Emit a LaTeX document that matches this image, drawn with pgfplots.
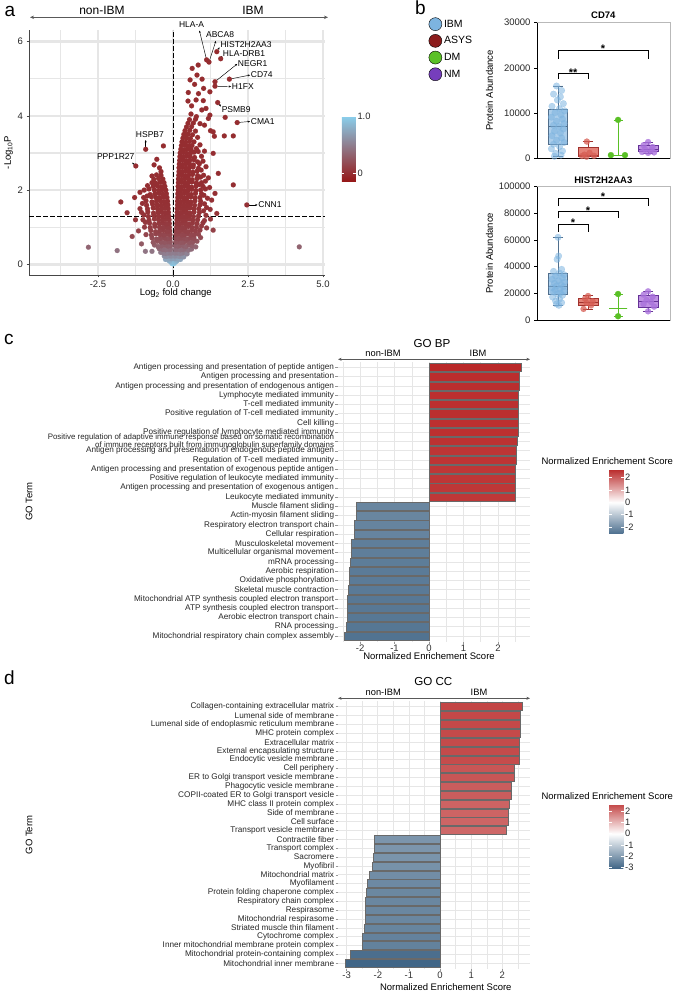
\documentclass[border=0pt]{standalone}
\usepackage{fontspec}
\setmainfont{Liberation Sans}
\usepackage{pgfplots}
\pgfplotsset{compat=1.18}
\usepgfplotslibrary{statistics}
\usetikzlibrary{arrows.meta}

\definecolor{gridgray}{RGB}{230,230,230}
\definecolor{axgray}{RGB}{70,70,70}
\definecolor{tickgray}{RGB}{150,150,150}
\definecolor{barline}{RGB}{105,105,105}
\definecolor{nesred}{RGB}{185,40,40}
\definecolor{nesblue}{RGB}{65,102,135}
\definecolor{ibmblue}{RGB}{125,180,224}
\definecolor{ibmfill}{RGB}{172,206,235}
\definecolor{ibmline}{RGB}{80,110,140}
\definecolor{asysdark}{RGB}{140,28,28}
\definecolor{asysred}{RGB}{215,95,85}
\definecolor{asysfill}{RGB}{228,130,120}
\definecolor{asysline}{RGB}{160,50,45}
\definecolor{dmgreen}{RGB}{90,192,38}
\definecolor{nmpurple}{RGB}{118,62,188}
\definecolor{nmdot}{RGB}{170,115,220}
\definecolor{nmfill}{RGB}{192,145,228}
\definecolor{nmline}{RGB}{100,50,150}

\newcommand\fs[1]{\fontsize{#1}{#1}\selectfont}

\pgfplotsset{
  /pgf/number format/assume math mode=true,
  nesbar/.style={xbar, bar shift=0pt, bar width=0.9, draw=barline, line width=0.5pt, fill=#1},
  dots/.style 2 args={only marks, mark=*, mark size=3pt, color=#1,
    mark options={fill=#1, draw=#1, line width=0.2pt, opacity=#2}},
  cbar/.style={at={(parent axis.north east)}, anchor=north west, scale only axis,
    axis line style={draw=none}, y dir=normal, xtick=\empty,
    ytick pos=both, yticklabel pos=right, tick align=inside, major tick length=2.5pt,
    minor tick length=0pt, tick style={white, line width=0.6pt},
    yticklabel style={font=\fs{9.3}, inner sep=1.5pt, text=black!85}},
  goaxis/.style={anchor=south west, scale only axis, width=192pt, y dir=reverse,
    ymin=0.4, ymax=30.6, axis line style={draw=none},
    ytick={1,...,30}, xmajorgrids, xminorgrids, ymajorgrids,
    major grid style={gridgray, line width=0.7pt},
    minor grid style={gridgray, line width=0.5pt},
    tick align=outside, major tick length=2.5pt, minor tick length=0pt,
    tick style={tickgray, line width=0.5pt}, xtick pos=bottom, ytick pos=left,
    xticklabel style={font=\fs{9.5}, text=black!80, inner sep=1pt},
    yticklabel style={font=\fontsize{8.2}{5.9}\selectfont, align=right, inner sep=0.6pt, xshift=-0.6pt, text=black!85}},
  % abundances are given in thousands; tick labels show the full numbers
  boxaxis/.style={anchor=south west, scale only axis, width=133pt,
    xmin=-0.7, xmax=3.73, ymin=0, xtick=\empty,
    boxplot/draw direction=y,
    yticklabel style={font=\fs{9.5}, text=black!85},
    axis line style={gray!55, line width=0.8pt}, ytick pos=left, tick align=outside,
    major tick length=3pt, tick style={black, line width=0.7pt}, clip=false},
}

\begin{document}
\begin{tikzpicture}[x=1pt,y=1pt]
\useasboundingbox (0,0) rectangle (673,991);

% ---------------- panel a: volcano plot ----------------
\node[font=\fs{19}, anchor=base west] at (1,974) {a};
\node[font=\fs{12}, anchor=base] at (102,976) {non-IBM};
\node[font=\fs{12}, anchor=base] at (253,976) {IBM};
\draw[{Stealth[length=4pt,width=3.4pt]}-{Stealth[length=4pt,width=3.4pt]}, line width=0.6pt, black!65] (30,973.7) -- (328,973.7);
\node[font=\fs{9.5}, anchor=base] at (175.8,695) {Log\textsubscript{2} fold change};
\node[font=\fs{9.5}, rotate=90] at (8.5,838.5) {-Log\textsubscript{10}P};

\begin{axis}[
  at={(29pt,716pt)}, anchor=south west, scale only axis,
  width=296pt, height=245pt,
  xmin=-4.8, xmax=5.067, ymin=-0.288, ymax=6.315,
  axis x line*=bottom, axis y line*=left,
  axis line style={axgray, line width=0.8pt, -},
  xtick={-2.5,0,2.5,5}, xticklabels={-2.5,0.0,2.5,5.0},
  minor xtick={-3.75,-1.25,1.25,3.75},
  ytick={0,2,4,6}, minor ytick={1,3,5},
  xmajorgrids, xminorgrids, ymajorgrids, yminorgrids,
  major x grid style={gridgray, line width=1.1pt},
  minor x grid style={gridgray, line width=1.1pt},
  major y grid style={gridgray, line width=2.6pt},
  minor y grid style={gridgray, line width=1.2pt},
  tick align=outside, major tick length=2.5pt, minor tick length=0pt,
  tick style={axgray, line width=0.6pt},
  tick label style={font=\fs{9.5}, text=black!85},
  clip=false,
  colormap={pval}{rgb255(0cm)=(150,22,22); rgb255(1.14cm)=(138,206,235)},
  point meta min=-0.14, point meta max=1,
  colorbar,
  colorbar style={cbar, xshift=8.3pt, yshift=-86.7pt, width=14pt, height=65pt,
    ytick={0,1}, yticklabels={0,1.0}},
]
\addplot[scatter, only marks, mark=*, mark size=2.5pt,
  scatter/use mapped color={draw=mapped color, fill=mapped color, line width=0.1pt},
  point meta={exp(-2.302585*\thisrow{y})}] table[row sep=\\] {
x y\\
0.00 0.01\\ -0.03 0.02\\ 0.03 0.02\\ 0.01 0.06\\ 0.06 0.05\\ -0.06 0.05\\ 0.10 0.07\\ -0.10 0.08\\ 0.14 0.10\\ -0.14 0.10\\
0.05 0.15\\ 0.11 0.16\\ 0.18 0.14\\ 0.25 0.13\\ -0.05 0.15\\ -0.11 0.16\\ -0.18 0.14\\ -0.25 0.13\\
0.06 0.22\\ 0.13 0.23\\ 0.21 0.21\\ 0.29 0.22\\ 0.36 0.20\\ -0.06 0.22\\ -0.13 0.23\\ -0.21 0.21\\ -0.29 0.22\\
0.07 0.30\\ 0.15 0.31\\ 0.23 0.29\\ 0.31 0.30\\ 0.39 0.32\\ 0.47 0.28\\ -0.07 0.30\\ -0.15 0.31\\ -0.23 0.29\\ -0.32 0.30\\ -0.41 0.32\\
0.08 0.40\\ 0.16 0.41\\ 0.25 0.39\\ 0.34 0.40\\ 0.43 0.42\\ 0.52 0.38\\ 0.62 0.41\\ -0.08 0.40\\ -0.16 0.41\\ -0.25 0.39\\ -0.35 0.40\\ -0.46 0.42\\ -0.70 0.35\\
0.08 0.50\\ 0.17 0.49\\ 0.26 0.51\\ 0.35 0.50\\ 0.44 0.48\\ 0.54 0.52\\ 0.65 0.50\\ 0.76 0.47\\ -0.08 0.50\\ -0.17 0.49\\ -0.27 0.51\\ -0.38 0.50\\ -0.50 0.48\\ -0.62 0.52\\ -0.92 0.35\\
0.09 0.60\\ 0.18 0.61\\ 0.27 0.59\\ 0.36 0.60\\ 0.45 0.62\\ 0.55 0.59\\ 0.66 0.60\\ 0.80 0.62\\ -0.09 0.60\\ -0.18 0.61\\ -0.28 0.59\\ -0.40 0.60\\ -0.52 0.62\\ -0.66 0.59\\ -1.05 0.55\\
0.10 0.70\\ 0.19 0.69\\ 0.28 0.71\\ 0.38 0.70\\ 0.48 0.68\\ 0.58 0.71\\ 0.70 0.70\\ 0.92 0.72\\ -0.10 0.70\\ -0.20 0.69\\ -0.30 0.71\\ -0.42 0.70\\ -0.55 0.68\\ -0.70 0.71\\ -1.36 0.75\\
0.10 0.80\\ 0.20 0.81\\ 0.30 0.79\\ 0.40 0.80\\ 0.50 0.82\\ 0.60 0.79\\ 0.72 0.80\\ 0.85 0.81\\ -0.10 0.80\\ -0.20 0.81\\ -0.31 0.79\\ -0.43 0.80\\ -0.57 0.82\\ -0.72 0.79\\ -0.90 0.80\\
0.11 0.90\\ 0.20 0.89\\ 0.30 0.91\\ 0.40 0.90\\ 0.50 0.88\\ 0.62 0.91\\ 0.75 0.90\\ 0.90 0.92\\ 1.34 0.92\\ -0.11 0.90\\ -0.21 0.89\\ -0.32 0.91\\ -0.44 0.90\\ -0.58 0.88\\ -0.74 0.91\\ -1.15 0.90\\
0.12 1.00\\ 0.21 1.01\\ 0.31 0.99\\ 0.41 1.00\\ 0.51 1.02\\ 0.63 0.99\\ 0.78 1.00\\ 0.95 1.03\\ 1.12 0.98\\ -0.12 1.00\\ -0.22 1.01\\ -0.33 0.99\\ -0.45 1.00\\ -0.60 1.02\\ -0.76 0.99\\ -0.95 1.00\\
0.12 1.10\\ 0.22 1.09\\ 0.32 1.11\\ 0.42 1.10\\ 0.53 1.08\\ 0.65 1.11\\ 0.80 1.10\\ 1.00 1.12\\ -0.12 1.10\\ -0.23 1.09\\ -0.34 1.11\\ -0.46 1.10\\ -0.61 1.08\\ -0.78 1.11\\ -0.92 1.13\\
0.13 1.20\\ 0.22 1.21\\ 0.32 1.19\\ 0.43 1.20\\ 0.54 1.22\\ 0.66 1.19\\ 0.82 1.20\\ 1.05 1.18\\ 1.25 1.22\\ -0.13 1.20\\ -0.24 1.21\\ -0.35 1.19\\ -0.48 1.20\\ -0.62 1.22\\ -0.80 1.19\\ -1.00 1.20\\ -1.25 1.20\\
0.13 1.30\\ 0.23 1.31\\ 0.33 1.29\\ 0.44 1.30\\ 0.55 1.32\\ 0.68 1.29\\ 0.85 1.30\\ 1.10 1.32\\ 1.46 1.37\\ -0.14 1.30\\ -0.25 1.31\\ -0.36 1.29\\ -0.49 1.30\\ -0.64 1.32\\ -0.82 1.29\\ -0.97 1.33\\
0.14 1.40\\ 0.24 1.39\\ 0.34 1.41\\ 0.45 1.40\\ 0.56 1.38\\ 0.70 1.41\\ 0.88 1.40\\ 1.02 1.44\\ -0.15 1.40\\ -0.26 1.39\\ -0.38 1.41\\ -0.50 1.40\\ -0.65 1.38\\ -0.84 1.41\\ -1.05 1.40\\ -1.53 1.39\\
0.14 1.50\\ 0.24 1.51\\ 0.35 1.49\\ 0.46 1.50\\ 0.57 1.52\\ 0.70 1.49\\ 0.86 1.50\\ 1.12 1.53\\ 1.24 1.48\\ -0.16 1.50\\ -0.27 1.51\\ -0.39 1.49\\ -0.52 1.50\\ -0.66 1.52\\ -0.85 1.49\\ -1.10 1.50\\
0.15 1.60\\ 0.25 1.61\\ 0.36 1.59\\ 0.47 1.60\\ 0.58 1.62\\ 0.72 1.59\\ 0.90 1.60\\ 1.05 1.63\\ -0.17 1.60\\ -0.28 1.61\\ -0.40 1.59\\ -0.53 1.60\\ -0.68 1.62\\ -0.88 1.59\\ -1.02 1.64\\
0.15 1.70\\ 0.25 1.69\\ 0.36 1.71\\ 0.47 1.70\\ 0.59 1.68\\ 0.73 1.71\\ 0.92 1.70\\ 1.29 1.73\\ -0.18 1.70\\ -0.30 1.69\\ -0.42 1.71\\ -0.55 1.70\\ -0.70 1.68\\ -0.90 1.71\\ -1.74 1.68\\
0.16 1.80\\ 0.26 1.81\\ 0.37 1.79\\ 0.48 1.80\\ 0.60 1.82\\ 0.74 1.79\\ 0.90 1.80\\ 1.15 1.78\\ 1.03 1.86\\ -0.20 1.80\\ -0.32 1.81\\ -0.44 1.79\\ -0.57 1.80\\ -0.72 1.82\\ -0.86 1.84\\ -0.98 1.80\\ -1.28 1.80\\
0.16 1.90\\ 0.27 1.89\\ 0.38 1.91\\ 0.49 1.90\\ 0.61 1.88\\ 0.75 1.91\\ 0.95 1.90\\ 1.40 1.91\\ -0.22 1.90\\ -0.34 1.89\\ -0.46 1.91\\ -0.60 1.90\\ -0.76 1.88\\ -1.10 1.94\\
0.17 2.00\\ 0.27 2.01\\ 0.38 1.99\\ 0.50 2.00\\ 0.62 2.02\\ 0.76 1.99\\ 0.92 2.00\\ 1.08 2.03\\ 1.22 2.07\\ -0.24 2.00\\ -0.36 2.01\\ -0.48 1.99\\ -0.62 2.00\\ -0.80 2.03\\ -0.96 2.00\\
0.17 2.10\\ 0.28 2.09\\ 0.39 2.11\\ 0.50 2.10\\ 0.62 2.08\\ 0.77 2.11\\ 0.88 2.15\\ 1.00 2.10\\ 2.01 2.14\\ -0.27 2.10\\ -0.39 2.09\\ -0.52 2.11\\ -0.66 2.10\\ -0.85 2.12\\
0.18 2.20\\ 0.29 2.21\\ 0.40 2.19\\ 0.51 2.20\\ 0.63 2.22\\ 0.78 2.19\\ 0.95 2.20\\ 1.08 2.24\\ -0.30 2.20\\ -0.43 2.21\\ -0.58 2.19\\ -0.70 2.20\\
0.18 2.30\\ 0.29 2.29\\ 0.40 2.31\\ 0.52 2.30\\ 0.64 2.28\\ 0.80 2.31\\ 0.92 2.35\\ 1.18 2.33\\ -0.34 2.30\\ -0.48 2.31\\ -0.64 2.29\\
0.19 2.40\\ 0.30 2.41\\ 0.41 2.39\\ 0.52 2.40\\ 0.65 2.42\\ 0.82 2.39\\ 1.02 2.40\\ 1.51 2.45\\ -0.40 2.40\\ -0.55 2.41\\ -0.70 2.38\\
0.20 2.50\\ 0.30 2.49\\ 0.42 2.51\\ 0.53 2.50\\ 0.66 2.48\\ 0.80 2.51\\ 0.94 2.54\\ -0.40 2.50\\ -0.45 2.60\\
0.20 2.60\\ 0.31 2.61\\ 0.42 2.59\\ 0.54 2.60\\ 0.67 2.62\\ 0.85 2.59\\ 1.10 2.63\\ -0.63 2.68\\
0.21 2.70\\ 0.32 2.69\\ 0.43 2.71\\ 0.55 2.70\\ 0.68 2.68\\ 0.88 2.71\\ -0.54 2.83\\
0.22 2.80\\ 0.33 2.81\\ 0.44 2.79\\ 0.56 2.80\\ 0.70 2.82\\ 0.82 2.76\\ 1.00 2.78\\ -0.32 3.19\\
0.23 2.90\\ 0.34 2.89\\ 0.45 2.91\\ 0.57 2.90\\ 0.72 2.88\\ 0.95 2.91\\ 1.34 2.99\\
0.24 3.00\\ 0.35 3.01\\ 0.46 2.99\\ 0.58 3.00\\ 0.70 3.02\\ 0.84 3.04\\ 1.05 3.05\\
0.26 3.10\\ 0.37 3.09\\ 0.48 3.11\\ 0.60 3.10\\ 0.78 3.12\\
0.28 3.20\\ 0.40 3.21\\ 0.50 3.19\\ 0.63 3.20\\ 0.90 3.22\\
0.30 3.30\\ 0.42 3.29\\ 0.55 3.31\\ 0.70 3.30\\
0.33 3.40\\ 0.45 3.41\\ 0.58 3.39\\ 0.82 3.42\\ 1.38 3.45\\ 1.71 3.46\\ 2.01 3.46\\
0.36 3.50\\ 0.50 3.51\\ 0.65 3.49\\ 1.25 3.60\\
0.40 3.60\\ 0.56 3.61\\ 0.75 3.59\\ 1.34 3.57\\
0.45 3.70\\ 0.62 3.71\\ 1.05 3.75\\
0.50 3.80\\ 0.68 3.81\\ 0.90 3.79\\
0.55 3.90\\ 0.75 3.91\\ 1.18 3.93\\ 1.74 3.96\\
0.60 4.05\\ 0.78 3.98\\ 1.23 4.02\\
0.62 4.27\\ 0.96 4.16\\ 1.10 4.20\\
0.50 4.40\\ 0.77 4.43\\ 1.01 4.41\\
0.51 4.63\\ 0.85 4.60\\ 1.23 4.65\\
0.72 4.85\\ 1.02 4.74\\ 0.57 4.97\\ 0.97 4.99\\
0.80 5.10\\ 0.64 5.28\\ 0.84 5.37\\
1.12 5.51\\ 1.20 5.45\\ 1.46 5.73\\ 1.59 5.54\\ 1.40 4.92\\ 1.88 4.99\\ 1.40 4.80\\ 1.49 4.36\\ 2.14 3.82\\ 2.46 1.60\\
-0.91 3.10\\ -1.24 2.65\\ -1.86 0.37\\ -2.82 0.46\\ 4.21 0.47\\
};
% significance thresholds
\addplot[black, line width=0.8pt, dash pattern=on 4.5pt off 2.5pt] coordinates {(0,-0.288) (0,6.315)};
\addplot[black, line width=0.8pt, dash pattern=on 4.5pt off 2.5pt] coordinates {(-4.8,1.301) (5.067,1.301)};
% gene labels
\tikzset{genearrow/.style={-{Stealth[length=2.4pt,width=2pt]}, line width=0.45pt, black}}
\begin{scope}[every node/.style={font=\fs{8.5}, inner sep=0pt}]
\draw[genearrow] (axis cs:1.12,5.51) -- (axis cs:0.88,6.30);
\node at (axis cs:0.62,6.45) {HLA-A};
\draw[genearrow] (axis cs:1.20,5.45) -- (axis cs:1.43,6.02);
\node at (axis cs:1.57,6.18) {ABCA8};
\draw[genearrow] (axis cs:1.46,5.73) -- (axis cs:1.55,5.85);
\node[anchor=west] at (axis cs:1.58,5.91) {HIST2H2AA3};
\draw[genearrow] (axis cs:1.59,5.54) -- (axis cs:1.64,5.62);
\node[anchor=west] at (axis cs:1.66,5.69) {HLA-DRB1};
\draw[genearrow] (axis cs:1.40,4.92) -- (axis cs:2.14,5.40);
\node[anchor=west] at (axis cs:2.16,5.42) {NEGR1};
\draw[genearrow] (axis cs:1.88,4.99) -- (axis cs:2.57,5.10);
\node[anchor=west] at (axis cs:2.59,5.12) {CD74};
\draw[genearrow] (axis cs:1.40,4.80) -- (axis cs:1.94,4.79);
\node[anchor=west] at (axis cs:1.96,4.79) {H1FX};
\draw[genearrow] (axis cs:1.49,4.36) -- (axis cs:1.60,4.25);
\node[anchor=west] at (axis cs:1.62,4.18) {PSMB9};
\draw[genearrow] (axis cs:2.14,3.82) -- (axis cs:2.57,3.85);
\node[anchor=west] at (axis cs:2.59,3.86) {CMA1};
\draw[genearrow] (axis cs:2.46,1.60) -- (axis cs:2.82,1.60);
\node[anchor=west] at (axis cs:2.84,1.60) {CNN1};
\draw[genearrow] (axis cs:-0.91,3.10) -- (axis cs:-0.91,3.35);
\node at (axis cs:-0.77,3.50) {HSPB7};
\draw[genearrow] (axis cs:-1.24,2.65) -- (axis cs:-1.36,2.74);
\node at (axis cs:-1.91,2.90) {PPP1R27};
\end{scope}
\end{axis}

% ---------------- panel b: protein abundance ----------------
\node[font=\fs{19}, anchor=base west] at (411.7,976) {b};
\node[font=\bfseries\fs{9.5}, anchor=base] at (603.3,972) {CD74};
\node[font=\fs{9.5}, rotate=90] at (489.5,900.5) {Protein Abundance};
\node[font=\bfseries\fs{9.5}, anchor=base] at (603.3,807) {HIST2H2AA3};
\node[font=\fs{9.5}, rotate=90] at (489.5,737.7) {Protein Abundance};

\begin{axis}[boxaxis,
  at={(537pt,832.7pt)}, height=135.6pt,
  ymax=30, ytick={0,10,20,30}, yticklabels={0,10000,20000,30000},
  legend style={at={(-0.816,1.04)}, anchor=north west, draw=none, fill=none,
    font=\fs{10.5}, row sep=3.3pt, inner sep=0pt, cells={anchor=west}},
  legend image code/.code={\fill[#1] (0pt,0pt) circle (6.5pt);},
]
\addlegendimage{fill=ibmblue}\addlegendentry{IBM}
\addlegendimage{fill=asysdark}\addlegendentry{ASYS}
\addlegendimage{fill=dmgreen}\addlegendentry{DM}
\addlegendimage{fill=nmpurple}\addlegendentry{NM}
\addplot[boxplot prepared={draw position=0, lower whisker=0.45, lower quartile=3.2, median=7.0, upper quartile=10.8, upper whisker=16.0, box extend=0.65, whisker extend=0.35}, draw=ibmline, fill=ibmfill, line width=0.6pt] coordinates {};
\addplot[boxplot prepared={draw position=1, lower whisker=0.35, lower quartile=0.4, median=0.6, upper quartile=2.45, upper whisker=3.7, box extend=0.65, whisker extend=0.35}, draw=asysline, fill=asysfill, line width=0.6pt] coordinates {};
\addplot[boxplot prepared={draw position=2, lower whisker=0.7, lower quartile=0.7, median=0.7, upper quartile=0.7, upper whisker=8.5, box extend=0.6, whisker extend=0.3}, draw=dmgreen, fill=none, line width=0.7pt] coordinates {};
\addplot[boxplot prepared={draw position=3, lower whisker=1.2, lower quartile=1.45, median=2.05, upper quartile=2.85, upper whisker=3.6, box extend=0.65, whisker extend=0.35}, draw=nmline, fill=nmfill, line width=0.6pt] coordinates {};
\addplot[dots={ibmblue}{0.55}, mark size=3.3pt] coordinates {
(-0.05,16.0) (0.12,15.0) (-0.15,14.2) (0.08,13.6) (-0.02,12.9) (0.18,12.1) (-0.20,11.5) (0.05,11.0) (0.22,10.5) (-0.10,10.1) (0.10,9.6) (-0.22,9.1) (0.15,8.7) (-0.05,8.2) (0.20,7.7) (-0.15,7.3) (0.03,7.0) (0.18,6.5) (-0.12,6.0) (0.08,5.6) (-0.20,5.0) (0.12,4.5) (-0.05,4.0) (0.20,3.5) (-0.15,3.1) (0.05,2.6) (-0.22,2.1) (0.15,1.6) (-0.08,1.1) (0.10,0.7) (-0.12,0.45)};
\addplot[dots={asysred}{0.75}] coordinates {
(0.80,0.5) (0.95,0.35) (1.20,0.55) (1.05,1.2) (0.96,3.7) (0.88,0.8)};
\addplot[dots={dmgreen}{1}] coordinates {
(1.76,0.7) (2.23,0.7) (2.00,8.5)};
\addplot[dots={nmdot}{0.8}] coordinates {
(3.00,3.6) (2.85,2.9) (3.15,2.5) (2.90,2.0) (3.10,1.8) (2.80,1.4) (3.20,1.3) (3.00,1.2)};
\draw[black, line width=0.8pt] (rel axis cs:0,1) -- (rel axis cs:0,0) -- (rel axis cs:1,0);
\draw[line width=0.7pt] (axis cs:0,17.62) -- (axis cs:0,18.73) -- (axis cs:1,18.73) -- (axis cs:1,17.62);
\node[font=\bfseries\fs{11}, anchor=base] at (axis cs:0.5,18.175) {**};
\draw[line width=0.7pt] (axis cs:0,22.06) -- (axis cs:0,23.9) -- (axis cs:3,23.9) -- (axis cs:3,22.06);
\node[font=\bfseries\fs{11}, anchor=base] at (axis cs:1.5,23.345) {*};
\end{axis}

\begin{axis}[boxaxis,
  at={(537pt,671pt)}, height=133.3pt,
  ymax=100, ytick={0,20,40,60,80,100}, yticklabels={0,20000,40000,60000,80000,100000},
]
\addplot[boxplot prepared={draw position=0, lower whisker=11.0, lower quartile=19.3, median=25.0, upper quartile=35.0, upper whisker=62.0, box extend=0.65, whisker extend=0.35}, draw=ibmline, fill=ibmfill, line width=0.6pt] coordinates {};
\addplot[boxplot prepared={draw position=1, lower whisker=8.3, lower quartile=10.8, median=13.2, upper quartile=16.3, upper whisker=18.2, box extend=0.65, whisker extend=0.35}, draw=asysline, fill=asysfill, line width=0.6pt] coordinates {};
\addplot[boxplot prepared={draw position=2, lower whisker=2.8, lower quartile=8.8, median=8.8, upper quartile=8.8, upper whisker=19.5, box extend=0.6, whisker extend=0.3}, draw=dmgreen, fill=none, line width=0.7pt] coordinates {};
\addplot[boxplot prepared={draw position=3, lower whisker=6.5, lower quartile=9.6, median=13.7, upper quartile=18.7, upper whisker=21.5, box extend=0.65, whisker extend=0.35}, draw=nmline, fill=nmfill, line width=0.6pt] coordinates {};
\addplot[dots={ibmblue}{0.55}, mark size=3.3pt] coordinates {
(0.00,62.0) (0.02,48.0) (-0.03,45.5) (0.12,38.0) (-0.15,36.5) (0.05,35.2) (0.20,34.0) (-0.08,33.0) (0.15,31.5) (-0.20,30.5) (0.02,29.5) (0.22,28.5) (-0.12,27.5) (0.10,26.5) (-0.05,25.5) (0.18,25.0) (-0.20,24.2) (0.06,23.5) (-0.10,22.5) (0.20,21.8) (-0.15,21.0) (0.08,20.3) (-0.02,19.5) (0.15,18.5) (-0.18,17.2) (0.05,15.8) (-0.08,14.2) (0.12,13.0) (-0.05,12.0) (0.03,11.0)};
\addplot[dots={asysred}{0.75}] coordinates {
(0.85,8.3) (1.10,11.0) (0.95,12.8) (1.15,14.0) (0.90,16.0) (1.00,18.0)};
\addplot[dots={dmgreen}{1}] coordinates {
(2.00,19.5) (2.00,2.8)};
\addplot[dots={nmdot}{0.8}] coordinates {
(3.00,21.5) (2.85,19.0) (3.15,17.5) (2.95,15.0) (3.10,13.5) (2.85,12.0) (3.20,10.0) (3.00,6.5)};
\draw[black, line width=0.8pt] (rel axis cs:0,1) -- (rel axis cs:0,0) -- (rel axis cs:1,0);
\draw[line width=0.7pt] (axis cs:0,66.25) -- (axis cs:0,71.8) -- (axis cs:1,71.8) -- (axis cs:1,66.25);
\node[font=\bfseries\fs{11}, anchor=base] at (axis cs:0.5,69.925) {*};
\draw[line width=0.7pt] (axis cs:0,76.25) -- (axis cs:0,81.25) -- (axis cs:2,81.25) -- (axis cs:2,76.25);
\node[font=\bfseries\fs{11}, anchor=base] at (axis cs:1.0,79.375) {*};
\draw[line width=0.7pt] (axis cs:0,85.5) -- (axis cs:0,91.25) -- (axis cs:3,91.25) -- (axis cs:3,85.5);
\node[font=\bfseries\fs{11}, anchor=base] at (axis cs:1.5,89.375) {*};
\end{axis}

% ---------------- panel c: GO BP ----------------
\node[font=\fs{19}, anchor=base west] at (0.5,646) {c};
\node[font=\fs{11.6}, anchor=base] at (432,643) {GO BP};
\node[font=\fs{9.3}, anchor=base] at (383,634) {non-IBM};
\node[font=\fs{9.3}, anchor=base] at (478,634) {IBM};
\draw[{Stealth[length=3.6pt,width=3pt]}-{Stealth[length=3.6pt,width=3pt]}, line width=0.55pt, black!65] (338,631.7) -- (530,631.7);
\node[font=\fs{9.5}, anchor=base] at (429,331) {Normalized Enrichement Score};
\node[font=\fs{9.5}, rotate=90] at (29,489.3) {GO Term};
\node[font=\fs{9.5}, anchor=base] at (607.3,526) {Normalized Enrichement Score};

\begin{axis}[goaxis,
  at={(338pt,349.4pt)}, height=279.7pt,
  xmin=-2.64, xmax=2.93,
  xtick={-2,-1,0,1,2}, minor xtick={-2.5,-1.5,-0.5,0.5,1.5,2.5},
  yticklabels={
    Antigen processing and presentation of peptide antigen,
    Antigen processing and presentation,
    Antigen processing and presentation of endogenous antigen,
    Lymphocyte mediated immunity,
    T-cell mediated immunity,
    Positive regulation of T-cell mediated immunity,
    Cell killing,
    Positive regulation of lymphocyte mediated immunity,
    {\fontsize{7.9}{5.9}\selectfont Positive regulation of adaptive immune response based on somatic recombination\\\fontsize{7.9}{5.9}\selectfont of immune receptors built from immunoglobulin superfamily domains},
    Antigen processing and presentation of endogenous peptide antigen,
    Regulation of T-cell mediated immunity,
    Antigen processing and presentation of exogenous peptide antigen,
    Positive regulation of leukocyte mediated immunity,
    Antigen processing and presentation of exogenous antigen,
    Leukocyte mediated immunity,
    Muscle filament sliding,
    Actin-myosin filament sliding,
    Respiratory electron transport chain,
    Cellular respiration,
    Musculoskeletal movement,
    Multicellular organismal movement,
    mRNA processing,
    Aerobic respiration,
    Oxidative phosphorylation,
    Skeletal muscle contraction,
    Mitochondrial ATP synthesis coupled electron transport,
    ATP synthesis coupled electron transport,
    Aerobic electron transport chain,
    RNA processing,
    Mitochondrial respiratory chain complex assembly},
  colormap={bpmap}{rgb255(0cm)=(79,113,144); rgb255(2.49cm)=(255,255,255); rgb255(5.18cm)=(185,40,40)},
  point meta min=-2.49, point meta max=2.69,
  colorbar,
  colorbar style={cbar, xshift=70.7pt, yshift=-107.1pt, width=14.3pt, height=64.3pt,
    ytick={-2,-1,0,1,2}},
]
\addplot[nesbar=nesred] coordinates {(2.69,1)};
\addplot[nesbar=nesred!97.8!white] coordinates {(2.63,2)};
\addplot[nesbar=nesred!97.0!white] coordinates {(2.61,3)};
\addplot[nesbar=nesred!96.7!white] coordinates {(2.60,4)};
\addplot[nesbar=nesred!96.7!white] coordinates {(2.60,5)};
\addplot[nesbar=nesred!96.7!white] coordinates {(2.60,6)};
\addplot[nesbar=nesred!96.3!white] coordinates {(2.59,7)};
\addplot[nesbar=nesred!96.3!white] coordinates {(2.59,8)};
\addplot[nesbar=nesred!95.2!white] coordinates {(2.56,9)};
\addplot[nesbar=nesred!94.1!white] coordinates {(2.53,10)};
\addplot[nesbar=nesred!94.4!white] coordinates {(2.54,11)};
\addplot[nesbar=nesred!93.3!white] coordinates {(2.51,12)};
\addplot[nesbar=nesred!93.3!white] coordinates {(2.51,13)};
\addplot[nesbar=nesred!92.9!white] coordinates {(2.50,14)};
\addplot[nesbar=nesred!92.9!white] coordinates {(2.50,15)};
\addplot[nesbar=nesblue!78.8!white] coordinates {(-2.12,16)};
\addplot[nesbar=nesblue!78.8!white] coordinates {(-2.12,17)};
\addplot[nesbar=nesblue!80.3!white] coordinates {(-2.16,18)};
\addplot[nesbar=nesblue!80.3!white] coordinates {(-2.16,19)};
\addplot[nesbar=nesblue!84.0!white] coordinates {(-2.26,20)};
\addplot[nesbar=nesblue!84.0!white] coordinates {(-2.26,21)};
\addplot[nesbar=nesblue!85.1!white] coordinates {(-2.29,22)};
\addplot[nesbar=nesblue!86.2!white] coordinates {(-2.32,23)};
\addplot[nesbar=nesblue!86.2!white] coordinates {(-2.32,24)};
\addplot[nesbar=nesblue!87.0!white] coordinates {(-2.34,25)};
\addplot[nesbar=nesblue!88.1!white] coordinates {(-2.37,26)};
\addplot[nesbar=nesblue!88.1!white] coordinates {(-2.37,27)};
\addplot[nesbar=nesblue!88.5!white] coordinates {(-2.38,28)};
\addplot[nesbar=nesblue!89.2!white] coordinates {(-2.40,29)};
\addplot[nesbar=nesblue!91.8!white] coordinates {(-2.47,30)};
\end{axis}

% ---------------- panel d: GO CC ----------------
\node[font=\fs{19}, anchor=base west] at (0.5,306) {d};
\node[font=\fs{11.6}, anchor=base] at (433.3,305) {GO CC};
\node[font=\fs{9.3}, anchor=base] at (383.3,295.3) {non-IBM};
\node[font=\fs{9.3}, anchor=base] at (479,295.3) {IBM};
\draw[{Stealth[length=3.6pt,width=3pt]}-{Stealth[length=3.6pt,width=3pt]}, line width=0.55pt, black!65] (338,292.7) -- (530,292.7);
\node[font=\fs{9.5}, anchor=base] at (445.8,1) {Normalized Enrichement Score};
\node[font=\fs{9.5}, rotate=90] at (29,156) {GO Term};
\node[font=\fs{9.5}, anchor=base] at (607.3,191) {Normalized Enrichement Score};

\begin{axis}[goaxis,
  at={(338pt,22.4pt)}, height=267.2pt,
  xmin=-3.28, xmax=2.89,
  xtick={-3,-2,-1,0,1,2}, minor xtick={-2.5,-1.5,-0.5,0.5,1.5,2.5},
  yticklabels={
    Collagen-containing extracellular matrix,
    Lumenal side of membrane,
    Lumenal side of endoplasmic reticulum membrane,
    MHC protein complex,
    Extracellular matrix,
    External encapsulating structure,
    Endocytic vesicle membrane,
    Cell periphery,
    ER to Golgi transport vesicle membrane,
    Phagocytic vesicle membrane,
    COPII-coated ER to Golgi transport vesicle,
    MHC class II protein complex,
    Side of membrane,
    Cell surface,
    Transport vesicle membrane,
    Contractile fiber,
    Transport complex,
    Sacromere,
    Myofibril,
    Mitochondrial matrix,
    Myofilament,
    Protein folding chaperone complex,
    Respiratory chain complex,
    Respirasome,
    Mitochondrial respirasome,
    Striated muscle thin filament,
    Cytochrome complex,
    Inner mitochondrial membrane protein complex,
    Mitochondrial protein-containing complex,
    Mitochondrial inner membrane},
  colormap={ccmap}{rgb255(0cm)=(65,102,135); rgb255(3.05cm)=(255,255,255); rgb255(5.68cm)=(195,70,70)},
  point meta min=-3.05, point meta max=2.63,
  colorbar,
  colorbar style={cbar, xshift=70.7pt, yshift=-102.6pt, width=14.3pt, height=64.3pt,
    ytick={-3,-2,-1,0,1,2}},
]
\addplot[nesbar=nesred!86.2!white] coordinates {(2.63,1)};
\addplot[nesbar=nesred!84.9!white] coordinates {(2.59,2)};
\addplot[nesbar=nesred!84.6!white] coordinates {(2.58,3)};
\addplot[nesbar=nesred!84.3!white] coordinates {(2.57,4)};
\addplot[nesbar=nesred!83.6!white] coordinates {(2.55,5)};
\addplot[nesbar=nesred!83.6!white] coordinates {(2.55,6)};
\addplot[nesbar=nesred!83.3!white] coordinates {(2.54,7)};
\addplot[nesbar=nesred!78.4!white] coordinates {(2.39,8)};
\addplot[nesbar=nesred!78.4!white] coordinates {(2.39,9)};
\addplot[nesbar=nesred!75.4!white] coordinates {(2.30,10)};
\addplot[nesbar=nesred!75.4!white] coordinates {(2.30,11)};
\addplot[nesbar=nesred!72.5!white] coordinates {(2.21,12)};
\addplot[nesbar=nesred!72.1!white] coordinates {(2.20,13)};
\addplot[nesbar=nesred!71.8!white] coordinates {(2.19,14)};
\addplot[nesbar=nesred!70.2!white] coordinates {(2.14,15)};
\addplot[nesbar=nesblue!69.2!white] coordinates {(-2.11,16)};
\addplot[nesbar=nesblue!69.2!white] coordinates {(-2.11,17)};
\addplot[nesbar=nesblue!70.2!white] coordinates {(-2.14,18)};
\addplot[nesbar=nesblue!71.5!white] coordinates {(-2.18,19)};
\addplot[nesbar=nesblue!74.4!white] coordinates {(-2.27,20)};
\addplot[nesbar=nesblue!77.0!white] coordinates {(-2.35,21)};
\addplot[nesbar=nesblue!78.0!white] coordinates {(-2.38,22)};
\addplot[nesbar=nesblue!78.4!white] coordinates {(-2.39,23)};
\addplot[nesbar=nesblue!78.4!white] coordinates {(-2.39,24)};
\addplot[nesbar=nesblue!78.4!white] coordinates {(-2.39,25)};
\addplot[nesbar=nesblue!80.0!white] coordinates {(-2.44,26)};
\addplot[nesbar=nesblue!81.6!white] coordinates {(-2.49,27)};
\addplot[nesbar=nesblue!82.0!white] coordinates {(-2.50,28)};
\addplot[nesbar=nesblue!94.8!white] coordinates {(-2.89,29)};
\addplot[nesbar=nesblue] coordinates {(-3.05,30)};
\end{axis}
\end{tikzpicture}
\end{document}
